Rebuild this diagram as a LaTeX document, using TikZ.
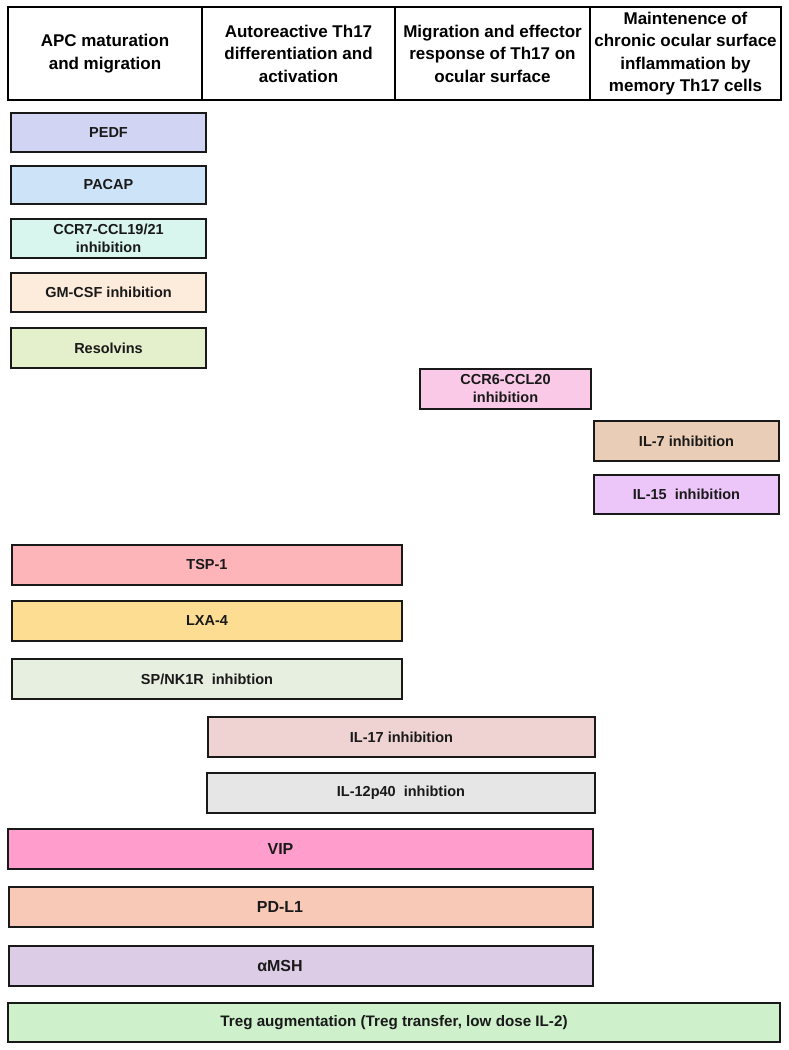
\documentclass[tikz,border=0pt]{standalone}
\usepackage{fontspec}
\setmainfont{Liberation Sans}
\usetikzlibrary{calc}

\definecolor{pedfcol}{HTML}{D2D4F3}
\definecolor{pacapcol}{HTML}{CDE4F8}
\definecolor{ccrsevencol}{HTML}{D8F6EE}
\definecolor{gmcsfcol}{HTML}{FDECDC}
\definecolor{resolvcol}{HTML}{E4F0CC}
\definecolor{ccrsixcol}{HTML}{FAC9E7}
\definecolor{ilsevencol}{HTML}{E9CDB6}
\definecolor{ilfifteencol}{HTML}{ECC6F8}
\definecolor{tspcol}{HTML}{FDB5B9}
\definecolor{lxacol}{HTML}{FCDD92}
\definecolor{spcol}{HTML}{E7EFE0}
\definecolor{ilsevnteencol}{HTML}{EFD3D3}
\definecolor{iltwelvecol}{HTML}{E6E6E6}
\definecolor{vipcol}{HTML}{FF9ECD}
\definecolor{pdlcol}{HTML}{F9C9B7}
\definecolor{mshcol}{HTML}{DDCCE5}
\definecolor{tregcol}{HTML}{CEF1CB}

\tikzset{
  head/.style={draw=black, line width=1.4pt, inner sep=0pt, align=center,
    font=\fontsize{17}{22.5}\selectfont\bfseries},
  drug/.style={draw=black!90, line width=1.4pt, inner sep=0pt, align=center,
    text=black!90, font=\fontsize{14.5}{18}\selectfont\bfseries},
  wide/.style={drug, font=\fontsize{16}{18}\selectfont\bfseries},
  widest/.style={drug, font=\fontsize{15.2}{18}\selectfont\bfseries}
}
% box from top-left (x1,y1) to bottom-right (x2,y2), pixel units
\def\drugbox(#1)[#2](#3,#4)(#5,#6)#7{%
  \node[#2, minimum width={#5-#3}, minimum height={#6-#4}] (#1)
    at ({(#3+#5)/2},{(#4+#6)/2}) {#7};}

\begin{document}
\begin{tikzpicture}[x=1pt, y=-1pt]
	%%%%% START %%%%%
	\fill[white] (0,0) rectangle (789,1050);
	\useasboundingbox (0,0) rectangle (789,1050);
	
	% stage headers
	\drugbox(stageA)[head](8,7)(202,100){APC maturation\\and migration}
	\drugbox(stageB)[head](202,7)(395,100){Autoreactive Th17\\differentiation and\\activation}
	\drugbox(stageC)[head](395,7)(590,100){Migration and effector\\response of Th17 on\\ocular surface}
	\drugbox(stageD)[head](590,7)(781,100){Maintenence of\\chronic ocular surface\\inflammation by\\memory Th17 cells}
	
	% APC stage
	\drugbox(pedf)[drug,fill=pedfcol](11,113)(206,152){PEDF}
	\drugbox(pacap)[drug,fill=pacapcol](11,166)(206,204){PACAP}
	\drugbox(ccrseven)[drug,fill=ccrsevencol](11,219)(206,258){CCR7-CCL19/21\\inhibition}
	\drugbox(gmcsf)[drug,fill=gmcsfcol](11,273)(206,312){GM-CSF inhibition}
	\drugbox(resolv)[drug,fill=resolvcol](11,328)(206,368){Resolvins}
	
	% migration and memory stages
	\drugbox(ccrsix)[drug,fill=ccrsixcol](420,369)(591,409){CCR6-CCL20\\inhibition}
	\drugbox(ilseven)[drug,fill=ilsevencol](594,421)(779,461){IL-7 inhibition}
	\drugbox(ilfifteen)[drug,fill=ilfifteencol](594,475)(779,514){IL-15\ \ inhibition}
	
	% spanning two stages
	\drugbox(tsp)[drug,fill=tspcol](12,545)(402,585){TSP-1}
	\drugbox(lxa)[drug,fill=lxacol](12,601)(402,641){LXA-4}
	\drugbox(spnk)[drug,fill=spcol](12,659)(402,699){SP/NK1R\ \ inhibtion}
	\drugbox(ilseventeen)[drug,fill=ilsevnteencol](208,717)(595,757){IL-17 inhibition}
	\drugbox(iltwelve)[drug,fill=iltwelvecol](207,773)(595,813){IL-12p40\ \ inhibtion}
	
	% spanning three / four stages (labels sit a bit left of centre)
	\drugbox(vip)[wide,fill=vipcol](8,829)(593,869){VIP\hspace*{40pt}}
	\drugbox(pdl)[wide,fill=pdlcol](9,887)(593,927){PD-L1\hspace*{42pt}}
	\drugbox(msh)[wide,fill=mshcol](9,946)(593,986){αMSH\hspace*{42pt}}
	\drugbox(treg)[widest,fill=tregcol](8,1003)(780,1042){Treg augmentation (Treg transfer, low dose IL-2)}
	%%%%% END %%%%%
\end{tikzpicture}
\end{document}
